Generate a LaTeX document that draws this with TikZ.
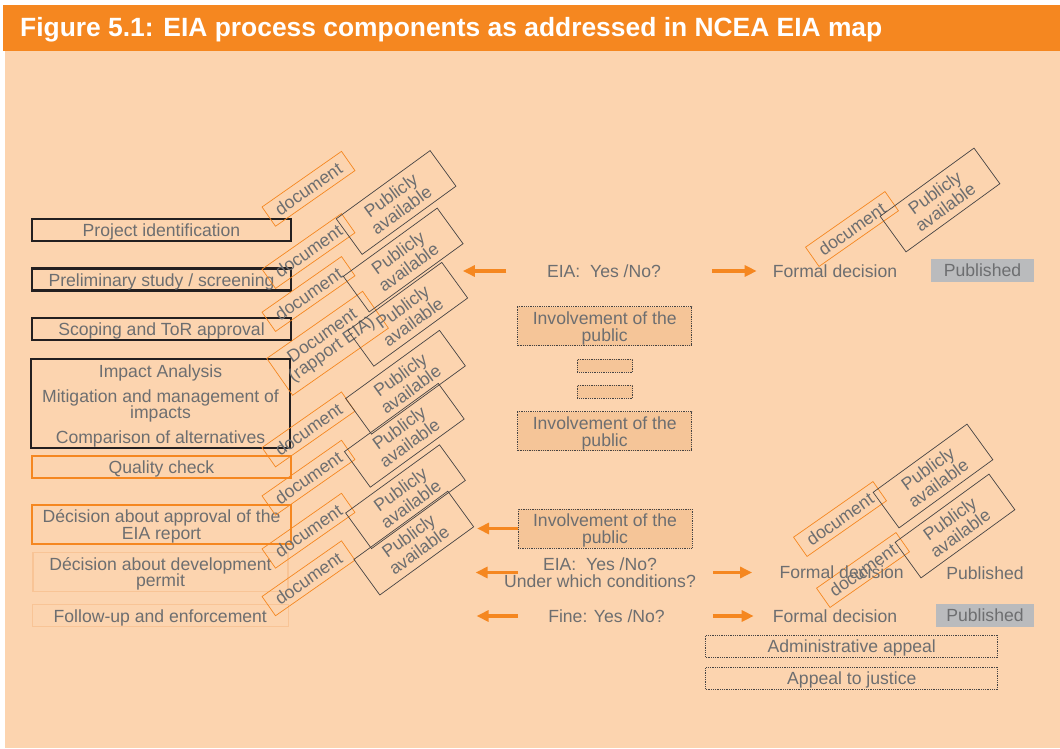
\documentclass[tikz,border=0pt]{standalone}
\usepackage{fontspec}
\setmainfont{Liberation Sans}
\newfontfamily\titlefont{Liberation Sans}
\usepackage{tikz}
\usetikzlibrary{arrows.meta, positioning}
\definecolor{eiapeach}{RGB}{252, 212, 175}
\definecolor{eiaorange}{RGB}{245, 135, 32}
\definecolor{eiagrey}{RGB}{109, 110, 112}
\definecolor{eiablack}{RGB}{35, 31, 32}
\definecolor{eiadark}{RGB}{70, 68, 68}
\definecolor{eiapub}{RGB}{186, 187, 189}
\definecolor{eiafill}{RGB}{245, 197, 152}
\definecolor{eiafaint}{RGB}{248, 196, 150}
\newcommand{\eiastrut}{\rule{0pt}{17pt}}

\begin{document}
\begin{tikzpicture}[x=1pt, y=-1pt,
    font=\fontsize{17.6}{16.5}\selectfont, text=eiagrey,
    lbl/.style={inner sep=0, align=center},
    blackbox/.style={draw=eiablack, line width=2.2pt, minimum width=259, minimum height=22, inner sep=0, align=center},
    orangebox/.style={blackbox, draw=eiaorange},
    faintbox/.style={blackbox, draw=eiafaint, line width=1.4pt},
    publicbox/.style={draw=eiadark, densely dotted, line width=0.8pt, fill=eiafill, minimum width=174, minimum height=39, inner sep=0, align=center},
    appealbox/.style={draw=eiadark, densely dotted, line width=0.8pt, minimum width=292, minimum height=22, inner sep=0},
    pubgrey/.style={fill=eiapub, minimum height=22.5, inner sep=0},
    docbox/.style={draw=eiaorange, line width=0.7pt, rotate=35, minimum width=97, minimum height=23.5, inner sep=0},
    pubbox/.style={draw=eiadark, line width=0.7pt, rotate=36, minimum width=116, minimum height=44, inner sep=0, align=center, font=\fontsize{17.6}{18}\selectfont},
    arr/.style={draw=eiaorange, line width=3.6pt, -{Triangle[length=12pt, width=11pt]}}]
\useasboundingbox (0,0) rectangle (1060,749);

% Background and title band
\fill[eiapeach] (5,50) rectangle (1060,748);
\fill[eiaorange] (3,5) rectangle (1060,51);
\node[anchor=base west, inner sep=0, text=white, font=\titlefont\bfseries\fontsize{26.4}{30}\selectfont] (title) at (20,36.5) {Figure 5.1: EIA process components as addressed in NCEA EIA map};

% Process steps
\node[blackbox] (projid) at (161.5,230) {\eiastrut Project identification};
\node[blackbox] (screening) at (161.5,279.5) {\eiastrut Preliminary study / screening};
\node[blackbox] (scoping) at (161.5,329) {\eiastrut Scoping and ToR approval};
\node[blackbox, minimum height=89] (impact) at (160.5,403.8) {\eiastrut Impact Analysis\\[8.5pt] Mitigation and management of\\ impacts\\[8.5pt] Comparison of alternatives};
\node[orangebox] (quality) at (161.5,467) {\eiastrut Quality check};
\node[orangebox, line width=2.6pt, minimum height=39] (approval) at (161.5,524.5) {\eiastrut D\'ecision about approval of the\\ EIA report};
\node[faintbox, minimum width=255, minimum height=39] (permit) at (160.5,572) {\eiastrut D\'ecision about development\\ permit};
\node[faintbox, minimum width=256] (followup) at (160.3,615.5) {\eiastrut Follow-up and enforcement};

% Documents
\foreach \n/\x/\y in {1/308.5/188.8, 2/308.5/251, 3/308.5/294, 4/308.5/429.4, 5/308.5/477.7, 6/308.5/530.7, 7/308.5/578.3, 8/852/229, 9/840/519, 10/863/570}
    \node[docbox] (doc\n) at (\x,\y) {document};
\node[docbox, minimum width=117, minimum height=45, align=center] (rapport) at (327.6,343.3) {Document\\(rapport EIA)};

% Publicly available
\foreach \n/\x/\y in {1/396.1/202.5, 2/403.2/260, 3/407.8/314.3, 4/405.5/382.2, 5/404.3/435.3, 6/405.5/496.7, 7/413.8/543.1, 8/940/200, 9/933/476, 10/955/526}
    \node[pubbox] (pub\n) at (\x,\y) {Publicly\\available};

% Middle column
\node[lbl] (eia1) at (604,271) {EIA:\ \ Yes /No?};
\node[publicbox] (inv1) at (604.7,326.3) {\eiastrut Involvement of the\\ public};
\node[publicbox, minimum width=55.4, minimum height=13] (gap1) at (605,365.8) {};
\node[publicbox, minimum width=55.4, minimum height=13] (gap2) at (605,391.8) {};
\node[publicbox] (inv2) at (604.7,431.2) {\eiastrut Involvement of the\\ public};
\node[publicbox] (inv3) at (605,528.5) {\eiastrut Involvement of the\\ public};
\node[lbl] (eia2) at (600,572.5) {EIA:\ \ Yes /No?\\ Under which conditions?};
\node[lbl] (fine) at (606.5,616) {Fine: Yes /No?};

% Decisions
\node[lbl] (fd1) at (835,271) {Formal decision};
\node[pubgrey, minimum width=103] (publ1) at (982.5,270.3) {Published};
\node[lbl] (fd2) at (841.7,572.5) {Formal decision};
\node[lbl] (publ2) at (985,573.3) {Published};
\node[lbl] (fd3) at (835,616) {Formal decision};
\node[pubgrey, minimum width=98] (publ3) at (985,615.5) {Published};
\node[appealbox] (admin) at (851.8,646.2) {\eiastrut Administrative appeal};
\node[appealbox] (justice) at (851.8,678.3) {\eiastrut Appeal to justice};

% Arrows
\coordinate[left=84pt of eia1] (eia1h);
\draw[arr, shorten <=40.5pt] (eia1) -- (eia1h);
\draw[arr, shorten <=51pt, shorten >=16pt] (eia1) -- (fd1);
\coordinate[left=40.5pt of inv3] (inv3h);
\draw[arr] (inv3) -- (inv3h);
\coordinate (eia2t) at (inv3.west |- eia2);
\coordinate[left=42pt of eia2t] (eia2h);
\draw[arr] (eia2t) -- (eia2h);
\draw[arr, shorten <=17.4pt, shorten >=27.3pt] (eia2) -- (fd2);
\coordinate (finet) at (inv3.west |- fine);
\coordinate[left=41pt of finet] (fineh);
\draw[arr] (finet) -- (fineh);
\draw[arr, shorten <=48pt, shorten >=19pt] (fine) -- (fd3);
\end{tikzpicture}
\end{document}
